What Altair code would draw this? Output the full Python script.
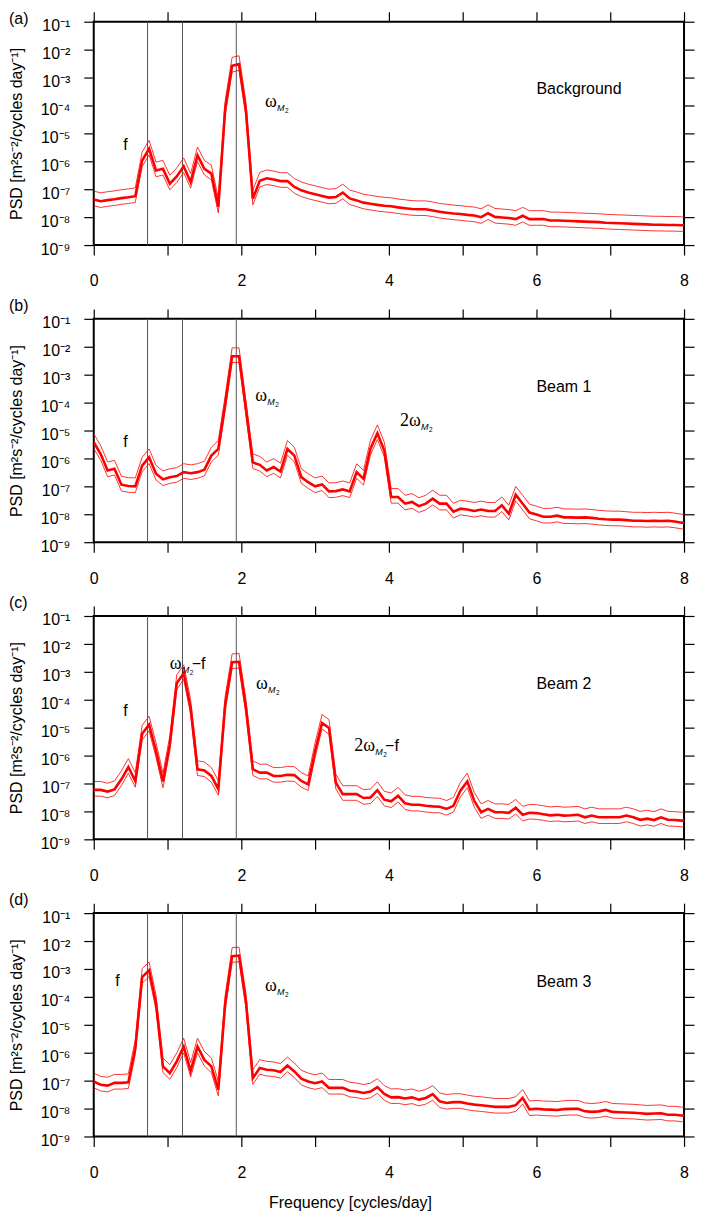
import altair as alt
import pandas as pd

# Spectral frequency bins [cycles/day]
FREQ = [0.0, 0.094, 0.188, 0.281, 0.375, 0.469, 0.563, 0.656, 0.75, 0.844,
        0.938, 1.031, 1.125, 1.219, 1.313, 1.406, 1.5, 1.594, 1.688, 1.781,
        1.875, 1.969, 2.063, 2.156, 2.25, 2.344, 2.438, 2.531, 2.625, 2.719,
        2.813, 2.906, 3.0, 3.094, 3.188, 3.281, 3.375, 3.469, 3.563, 3.656,
        3.75, 3.844, 3.938, 4.031, 4.125, 4.219, 4.313, 4.406, 4.5, 4.594,
        4.688, 4.781, 4.875, 4.969, 5.063, 5.156, 5.25, 5.344, 5.438, 5.531,
        5.625, 5.719, 5.813, 5.906, 6.0, 6.094, 6.188, 6.281, 6.375, 6.469,
        6.563, 6.656, 6.75, 6.844, 6.938, 7.031, 7.125, 7.219, 7.313, 7.406,
        7.5, 7.594, 7.688, 7.781, 7.875, 7.969, 8.063]

# log10 of PSD [m^2 s^-2 / cpd]
BACKGROUND = [-7.37, -7.43, -7.39, -7.36, -7.32, -7.29, -7.25, -5.97, -5.55, -6.33,
              -6.27, -6.80, -6.54, -6.18, -6.74, -5.79, -6.27, -6.44, -7.63, -4.13,
              -2.58, -2.52, -4.19, -7.34, -6.70, -6.61, -6.65, -6.71, -6.71, -6.92,
              -7.04, -7.12, -7.18, -7.24, -7.30, -7.28, -7.12, -7.33, -7.40, -7.48,
              -7.52, -7.56, -7.59, -7.61, -7.65, -7.68, -7.71, -7.72, -7.72, -7.76,
              -7.81, -7.84, -7.87, -7.89, -7.92, -7.94, -8.00, -7.86, -7.99, -8.01,
              -8.03, -8.07, -7.95, -8.07, -8.07, -8.07, -8.12, -8.12, -8.13, -8.14,
              -8.15, -8.16, -8.17, -8.18, -8.20, -8.21, -8.22, -8.23, -8.24, -8.25,
              -8.26, -8.27, -8.27, -8.28, -8.28, -8.29, -8.29]
BEAM1 = [-5.42, -5.84, -6.43, -6.37, -6.94, -6.99, -7.00, -6.26, -5.96, -6.55,
         -6.75, -6.67, -6.63, -6.49, -6.53, -6.49, -6.40, -5.90, -5.66, -4.06,
         -2.34, -2.34, -4.24, -6.14, -6.23, -6.43, -6.31, -6.47, -5.66, -5.90,
         -6.67, -6.85, -7.00, -6.93, -7.18, -7.17, -7.11, -7.18, -6.49, -6.73,
         -5.65, -5.10, -5.72, -7.38, -7.38, -7.62, -7.56, -7.71, -7.62, -7.44,
         -7.62, -7.62, -7.91, -7.80, -7.83, -7.88, -7.83, -7.88, -7.88, -7.68,
         -7.98, -7.30, -7.62, -7.94, -8.01, -8.09, -8.09, -8.05, -8.11, -8.11,
         -8.12, -8.11, -8.13, -8.16, -8.18, -8.19, -8.19, -8.21, -8.23, -8.23,
         -8.24, -8.23, -8.24, -8.23, -8.26, -8.30, -8.31]
BEAM2 = [-7.23, -7.23, -7.29, -7.21, -6.85, -6.41, -6.91, -5.22, -4.89, -5.84,
         -6.93, -5.60, -3.41, -3.05, -4.30, -6.49, -6.53, -6.73, -7.20, -4.18,
         -2.66, -2.64, -4.30, -6.49, -6.61, -6.61, -6.73, -6.73, -6.69, -6.70,
         -6.91, -7.03, -5.84, -4.83, -5.01, -6.97, -7.38, -7.38, -7.38, -7.52,
         -7.50, -7.24, -7.58, -7.64, -7.44, -7.71, -7.76, -7.76, -7.80, -7.82,
         -7.83, -7.91, -7.80, -7.26, -6.93, -7.62, -8.03, -7.91, -8.03, -8.03,
         -8.05, -7.87, -8.12, -8.05, -8.06, -8.10, -8.14, -8.12, -8.15, -8.14,
         -8.12, -8.21, -8.15, -8.21, -8.21, -8.21, -8.21, -8.15, -8.21, -8.30,
         -8.26, -8.31, -8.21, -8.30, -8.31, -8.33, -8.33]
BEAM3 = [-7.03, -7.15, -7.18, -7.08, -7.08, -7.06, -5.84, -3.29, -3.05, -4.24,
         -6.49, -6.73, -6.31, -5.78, -6.65, -5.78, -6.26, -6.49, -7.32, -4.24,
         -2.54, -2.52, -4.18, -6.91, -6.55, -6.61, -6.63, -6.69, -6.46, -6.67,
         -6.93, -7.03, -7.09, -7.03, -7.26, -7.26, -7.26, -7.36, -7.39, -7.44,
         -7.39, -7.23, -7.48, -7.60, -7.59, -7.64, -7.60, -7.68, -7.62, -7.48,
         -7.74, -7.80, -7.77, -7.77, -7.82, -7.86, -7.88, -7.91, -7.94, -7.94,
         -7.94, -7.88, -7.62, -8.03, -8.01, -8.03, -8.04, -8.05, -8.02, -8.01,
         -8.01, -8.10, -8.12, -8.10, -8.05, -8.12, -8.13, -8.14, -8.15, -8.17,
         -8.19, -8.18, -8.17, -8.22, -8.22, -8.25, -8.26]

# 95% confidence interval factors (multiplicative)
CI_UPPER_FACTOR = 2.0
CI_LOWER_FACTOR = 0.6

# Reference frequencies [cpd]
F_INERTIAL = 0.729
M2 = 1.932
M2_MINUS_F = 1.203
REF_LINES = [F_INERTIAL, M2_MINUS_F, M2]

X_TICKS = [0, 1, 2, 3, 4, 5, 6, 7, 8]
Y_TICKS = [1e-9, 1e-8, 1e-7, 1e-6, 1e-5, 1e-4, 1e-3, 1e-2, 1e-1]
Y_LABELS = ["10⁻⁹", "10⁻⁸", "10⁻⁷", "10⁻⁶", "10⁻⁵", "10⁻⁴", "10⁻³", "10⁻²", "10⁻¹"]

PANEL_LETTERS = ["(a)", "(b)", "(c)", "(d)"]
PANEL_NAMES = ["Background", "Beam 1", "Beam 2", "Beam 3"]
PANEL_SERIES = [BACKGROUND, BEAM1, BEAM2, BEAM3]

# annotations: (kind, freq, log10 psd at baseline)
ANNOTATIONS = [
    [("f", 0.40, -5.60), ("w", 2.32, -4.06), ("name", 6.0, -3.60)],
    [("f", 0.40, -5.59), ("w", 2.19, -3.95), ("2w", 4.15, -4.84), ("name", 6.0, -3.63)],
    [("f", 0.40, -4.59), ("w-f", 1.03, -2.89), ("w", 2.20, -3.63), ("2w-f", 3.53, -5.84), ("name", 6.0, -3.63)],
    [("f", 0.29, -3.60), ("w", 2.32, -3.78), ("name", 6.0, -3.63)],
]

FONT = "Liberation Sans"
SERIF = "Liberation Serif"
YTITLE = "PSD [m²s⁻²/cycles day⁻¹]"

PANEL_W = 592
PANEL_H = 224

XS = alt.Scale(domain=[0, 8], nice=False, zero=False)
YS = alt.Scale(type="log", domain=[1e-9, 1e-1], nice=False)

Y_LABEL_EXPR = "[" + ",".join("'" + s + "'" for s in Y_LABELS) + "][round(log(datum.value)/LN10)+9]"


def text_piece(x, ylog, text, font, size, dx=0, dy=0, style="normal"):
    df = pd.DataFrame({"freq": [x], "psd": [10 ** ylog]})
    return alt.Chart(df).mark_text(
        text=text, font=font, fontSize=size, fontStyle=style, dx=dx, dy=dy,
        align="left", baseline="alphabetic", color="black"
    ).encode(
        x=alt.X("freq:Q", scale=XS, axis=None),
        y=alt.Y("psd:Q", scale=YS, axis=None),
    )


def omega_pieces(x, ylog, prefix="", suffix=""):
    w = 12 + (9 if prefix else 0)
    pieces = [
        text_piece(x, ylog, prefix + "ω", SERIF, 18),
        text_piece(x, ylog, "M", FONT, 9, dx=w, dy=4, style="italic"),
        text_piece(x, ylog, "2", FONT, 6.5, dx=w + 8, dy=6),
    ]
    if suffix:
        pieces.append(text_piece(x, ylog, suffix, FONT, 16, dx=w + 10))
    return pieces


def make_panel(i):
    vals = PANEL_SERIES[i]
    psd = [10 ** v for v in vals]
    df = pd.DataFrame({
        "freq": FREQ,
        "psd": psd,
        "upper": [p * CI_UPPER_FACTOR for p in psd],
        "lower": [p * CI_LOWER_FACTOR for p in psd],
    })
    last = i == 3
    base = alt.Chart(df)
    rules = alt.Chart(pd.DataFrame({"freq": REF_LINES})).mark_rule(
        color="#555555", strokeWidth=1
    ).encode(x=alt.X("freq:Q", scale=XS, axis=None))

    xaxis = alt.Axis(
        orient="bottom", values=X_TICKS, labelFlush=False, labelOverlap=False,
        labelExpr="datum.value % 2 == 0 ? datum.label : ''",
        labelPadding=18, title="Frequency [cycles/day]" if last else "",
        titleX=257, titleY=71, titleAlign="center", titleBaseline="alphabetic",
    )
    yaxis = alt.Axis(
        orient="left", values=Y_TICKS, labelExpr=Y_LABEL_EXPR, labelOverlap=False,
        labelFlush=False, labelPadding=14, labelBaseline="middle", labelOffset=4,
        title=YTITLE, titleX=-69, titleY=PANEL_H / 2, titleBaseline="bottom",
        titleAlign="center", titleAngle=270,
    )
    center = base.mark_line(color="#ff0000", strokeWidth=2.6, clip=True).encode(
        x=alt.X("freq:Q", scale=XS, axis=xaxis),
        y=alt.Y("psd:Q", scale=YS, axis=yaxis),
    )
    upper = base.mark_line(color="#ff0000", strokeWidth=0.8, clip=True).encode(
        x=alt.X("freq:Q", scale=XS, axis=alt.Axis(orient="top", values=X_TICKS, labels=False, title="")),
        y=alt.Y("upper:Q", scale=YS, axis=alt.Axis(orient="right", values=Y_TICKS, labels=False, title="")),
    )
    lower = base.mark_line(color="#ff0000", strokeWidth=0.8, clip=True).encode(
        x=alt.X("freq:Q", scale=XS, axis=None),
        y=alt.Y("lower:Q", scale=YS, axis=None),
    )

    layers = [rules, lower, upper, center]
    for kind, x, ylog in ANNOTATIONS[i]:
        if kind == "f":
            layers.append(text_piece(x, ylog, "f", FONT, 16))
        elif kind == "name":
            layers.append(text_piece(x, ylog, PANEL_NAMES[i], FONT, 16))
        elif kind == "w":
            layers += omega_pieces(x, ylog)
        elif kind == "2w":
            layers += omega_pieces(x, ylog, prefix="2")
        elif kind == "w-f":
            layers += omega_pieces(x, ylog, suffix="−f")
        elif kind == "2w-f":
            layers += omega_pieces(x, ylog, prefix="2", suffix="−f")

    letter_y = -11 if i == 0 else -21
    letter = alt.Chart(pd.DataFrame({"t": [0]})).mark_text(
        text=PANEL_LETTERS[i], font=FONT, fontSize=16, align="left", baseline="top", color="black"
    ).encode(x=alt.value(-85), y=alt.value(letter_y))
    layers.append(letter)

    return alt.layer(*layers).resolve_axis(x="independent", y="independent").properties(
        width=PANEL_W, height=PANEL_H
    )


chart = alt.VConcatChart(
    vconcat=[make_panel(i) for i in range(4)],
    spacing=74,
    bounds="flush",
    padding={"left": 0, "top": 0, "right": 0, "bottom": 0},
).configure_axis(
    grid=False, domain=False, tickColor="black", tickWidth=1.2, tickSize=10,
    labelFont=FONT, labelFontSize=16, labelColor="black",
    titleFont=FONT, titleFontSize=16, titleFontWeight="normal", titleColor="black",
).configure_view(stroke="black", strokeWidth=2)

chart.save("out.html", embed_options={"renderer": "svg", "actions": False})
